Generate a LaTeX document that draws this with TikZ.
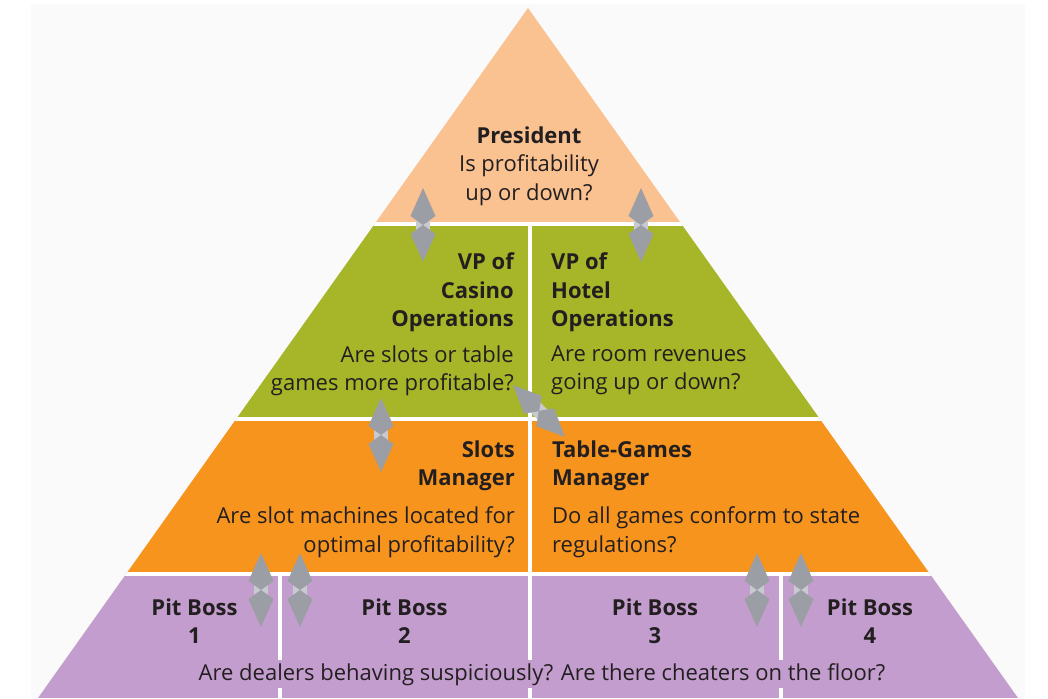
\documentclass[tikz,border=0pt]{standalone}
\usepackage{fontspec}
\setmainfont{Open Sans}
\usetikzlibrary{arrows.meta}
\definecolor{panel}{RGB}{250,250,250}
\definecolor{toppeach}{RGB}{250,193,145}
\definecolor{vpgreen}{RGB}{166,182,40}
\definecolor{mgrorange}{RGB}{247,148,30}
\definecolor{bosspurple}{RGB}{195,157,206}
\definecolor{textgray}{RGB}{35,31,32}
\definecolor{arrgray}{RGB}{155,158,165}
\definecolor{arrlight}{RGB}{200,202,207}
\begin{document}
\begin{tikzpicture}[x=1pt,y=-1pt,
      txt/.style={font=\fontsize{22}{28.5}\selectfont, text=textgray, inner sep=0pt},
      head/.style={txt, font=\fontsize{22}{28.5}\selectfont\bfseries},
      sep/.style={white, line width=4pt},
      dblarrow/.style={draw=arrlight, line width=14pt,
        {Kite[length=37pt,width=25pt,inset=9pt,color=arrgray]}-{Kite[length=37pt,width=25pt,inset=9pt,color=arrgray]}}
      ]
      \useasboundingbox (0,0) rectangle (1048,698);
      \fill[panel] (31,4) rectangle (1025,698);
      \coordinate (apex) at (528,8);
      \coordinate (bl) at (38,698);
      \coordinate (br) at (1018,698);
      \begin{scope}
        \clip (apex) -- (bl) -- (br) -- cycle;
        \fill[toppeach] (0,0) rectangle (1048,223.5);
        \fill[vpgreen] (0,223.5) rectangle (1048,419);
        \fill[mgrorange] (0,419) rectangle (1048,573.5);
        \fill[bosspurple] (0,573.5) rectangle (1048,698);
        \draw[sep] (0,223.5) -- (1048,223.5);
        \draw[sep] (0,419) -- (1048,419);
        \draw[sep] (0,573.5) -- (1048,573.5);
        \draw[sep] (530,223.5) -- (530,698);
        \draw[sep] (280,573.5) -- (280,698);
        \draw[sep] (781,573.5) -- (781,698);
      \end{scope}
      % levels
      \node[txt, align=center, anchor=north] (pres) at (529,126.5)
        {\textbf{President}\\Is profitability\\up or down?};
      \node[head, align=right, anchor=north east] (casino) at (514,252.5) {VP of\\Casino\\Operations};
      \node[txt, align=right, anchor=north east] (casinoq) at (514,345.5) {Are slots or table\\games more profitable?};
      \node[head, align=left, anchor=north west] (hotel) at (551,252.5) {VP of\\Hotel\\Operations};
      \node[txt, align=left, anchor=north west] (hotelq) at (551,345.5) {Are room revenues\\going up or down?};
      \node[head, align=right, anchor=north east] (slots) at (515,440.5) {Slots\\Manager};
      \node[txt, align=right, anchor=north east] (slotsq) at (515,506.5) {Are slot machines located for\\optimal profitability?};
      \node[head, align=left, anchor=north west] (table) at (552,440.5) {Table-Games\\Manager};
      \node[txt, align=left, anchor=north west] (tableq) at (552,506.5) {Do all games conform to state\\regulations?};
      \node[head, align=center, anchor=north] (pit1) at (194.5,598.5) {Pit Boss\\1};
      \node[head, align=center, anchor=north] (pit2) at (404.5,598.5) {Pit Boss\\2};
      \node[head, align=center, anchor=north] (pit3) at (655,598.5) {Pit Boss\\3};
      \node[head, align=center, anchor=north] (pit4) at (870,598.5) {Pit Boss\\4};
      \node[txt, anchor=base, fill=bosspurple, inner xsep=2pt, inner ysep=3pt] (pitq) at (542,680)
        {Are dealers behaving suspiciously? Are there cheaters on the floor?};
      % reporting arrows
      \coordinate (a1t) at (423,188); \coordinate (a1b) at (423,262);
      \coordinate (a2t) at (641,188); \coordinate (a2b) at (641,262);
      \coordinate (a3t) at (381,398); \coordinate (a3b) at (381,472);
      \coordinate (a4t) at (513,385); \coordinate (a4b) at (565,437);
      \coordinate (a5t) at (261,553); \coordinate (a5b) at (261,627);
      \coordinate (a6t) at (300,553); \coordinate (a6b) at (300,627);
      \coordinate (a7t) at (757,553); \coordinate (a7b) at (757,627);
      \coordinate (a8t) at (801,553); \coordinate (a8b) at (801,627);
      \foreach \i in {1,...,8}
        \draw[dblarrow] (a\i t) -- (a\i b);
    \end{tikzpicture}
\end{document}
